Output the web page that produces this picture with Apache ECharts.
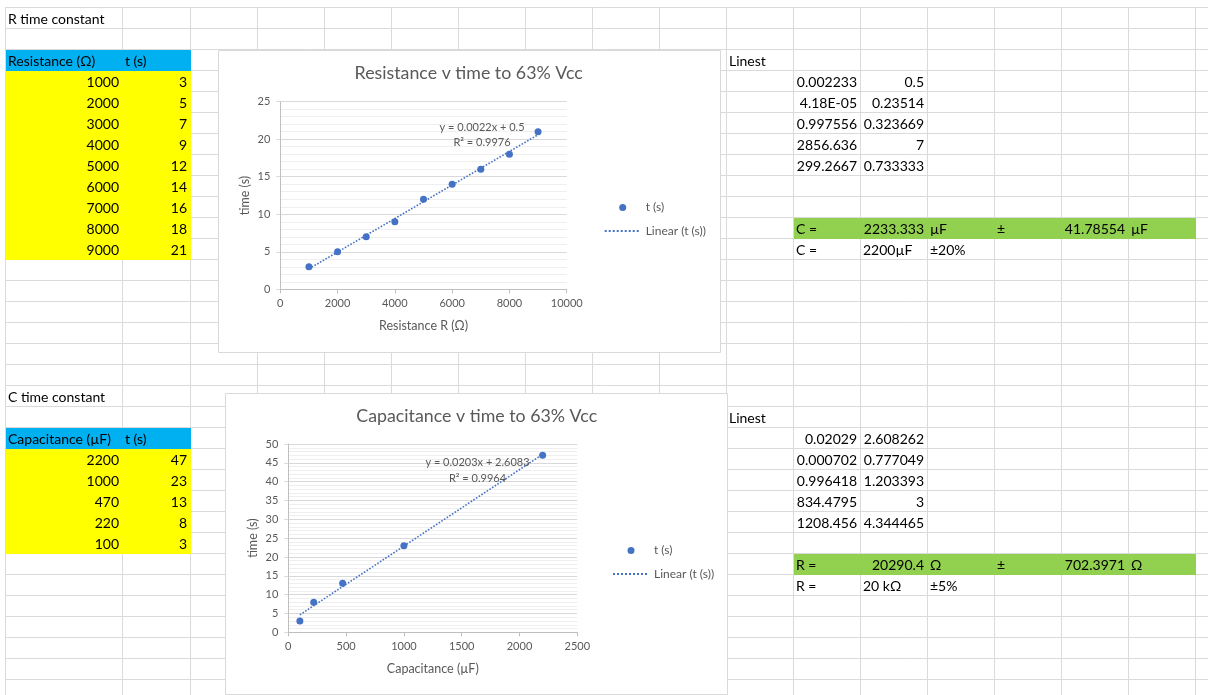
<!DOCTYPE html>
<html><head><meta charset="utf-8">
<script src="https://cdn.jsdelivr.net/npm/echarts@6/dist/echarts.min.js"></script>
<style>html,body{margin:0;padding:0;background:#fff;overflow:hidden}#c{width:1208px;height:695px}</style>
</head><body><div id="c"></div>
<script>
// ---------- data ----------
const resistance = [1000, 2000, 3000, 4000, 5000, 6000, 7000, 8000, 9000];
const timeR = [3, 5, 7, 9, 12, 14, 16, 18, 21];
const capacitance = [2200, 1000, 470, 220, 100];
const timeC = [47, 23, 13, 8, 3];
const trendR = [[1000, 2.733], [9000, 20.6]];
const trendC = [[100, 4.637], [2200, 47.246]];
const eqR = ['y = 0.0022x + 0.5', 'R² = 0.9976'];
const eqC = ['y = 0.0203x + 2.6083', 'R² = 0.9964'];
const titleR = 'Resistance v time to 63% Vcc';
const titleC = 'Capacitance v time to 63% Vcc';
const legendNames = ['t (s)', 'Linear (t (s))'];
const headersR = ['Resistance (Ω)', 't (s)'];
const headersC = ['Capacitance (µF)', 't (s)'];
const linestR = [['0.002233', '0.5'], ['4.18E-05', '0.23514'], ['0.997556', '0.323669'], ['2856.636', '7'], ['299.2667', '0.733333']];
const linestC = [['0.02029', '2.608262'], ['0.000702', '0.777049'], ['0.996418', '1.203393'], ['834.4795', '3'], ['1208.456', '4.344465']];
const resultR = ['C =', '2233.333', 'µF', '±', '41.78554', 'µF'];
const nominalR = ['C =', '2200µF', '±20%'];
const resultC = ['R =', '20290.4', 'Ω', '±', '702.3971', 'Ω'];
const nominalC = ['R =', '20 kΩ', '±5%'];

// ---------- sheet layout ----------
const FONT = 'Lato';
const COLS = [5, 122, 190, 257, 324, 391, 458, 525, 592, 659, 726, 793, 860, 927, 994, 1061, 1128, 1195, 1262];
const ROW0 = 7, ROWH = 21, NROWS = 34;
const rowY = r => ROW0 + ROWH * r;
const G = [];
// gridlines
COLS.forEach(x => G.push({type: 'line', silent: true, z: 0, shape: {x1: x + 0.5, y1: ROW0, x2: x + 0.5, y2: 695}, style: {stroke: '#dadada', lineWidth: 1}}));
for (let r = 0; r < NROWS; r++) G.push({type: 'line', silent: true, z: 0, shape: {x1: COLS[0], y1: rowY(r) + 0.5, x2: 1208, y2: rowY(r) + 0.5}, style: {stroke: '#dadada', lineWidth: 1}});
function fill(c0, c1, r0, r1, color) {
  G.push({type: 'rect', silent: true, z: 1, shape: {x: COLS[c0] + 1, y: rowY(r0) + 1, width: COLS[c1 + 1] - COLS[c0], height: rowY(r1 + 1) - rowY(r0)}, style: {fill: color}});
}
fill(0, 1, 2, 2, '#00B0F0'); fill(0, 1, 3, 11, '#FFFF00');
fill(0, 1, 20, 20, '#00B0F0'); fill(0, 1, 21, 25, '#FFFF00');
fill(11, 16, 10, 10, '#92D050'); fill(11, 16, 26, 26, '#92D050');
// chart boxes
G.push({type: 'rect', silent: true, z: 2, shape: {x: 218.5, y: 50.5, width: 502, height: 302}, style: {fill: '#fff', stroke: '#d9d9d9', lineWidth: 1}});
G.push({type: 'rect', silent: true, z: 2, shape: {x: 225.5, y: 393.5, width: 502, height: 301}, style: {fill: '#fff', stroke: '#d9d9d9', lineWidth: 1}});
function cell(c, r, text, align) {
  const x = align === 'right' ? COLS[c + 1] - 3 : COLS[c] + 3;
  G.push({type: 'text', silent: true, z: 3, x: x, y: rowY(r) + 12, style: {text: text, fontFamily: FONT, fontSize: 14, fill: '#000', align: align, verticalAlign: 'middle'}});
}
cell(0, 0, 'R time constant', 'left');
cell(0, 2, headersR[0], 'left'); cell(1, 2, headersR[1], 'left');
resistance.forEach((v, i) => { cell(0, 3 + i, String(v), 'right'); cell(1, 3 + i, String(timeR[i]), 'right'); });
cell(10, 2, 'Linest', 'left');
linestR.forEach((p, i) => { cell(11, 3 + i, p[0], 'right'); cell(12, 3 + i, p[1], 'right'); });
[['left', 11], ['right', 12], ['left', 13], ['left', 14], ['right', 15], ['left', 16]].forEach((a, i) => cell(a[1], 10, resultR[i], a[0]));
nominalR.forEach((t, i) => cell(11 + i, 11, t, 'left'));
cell(0, 18, 'C time constant', 'left');
cell(0, 20, headersC[0], 'left'); cell(1, 20, headersC[1], 'left');
capacitance.forEach((v, i) => { cell(0, 21 + i, String(v), 'right'); cell(1, 21 + i, String(timeC[i]), 'right'); });
cell(10, 19, 'Linest', 'left');
linestC.forEach((p, i) => { cell(11, 20 + i, p[0], 'right'); cell(12, 20 + i, p[1], 'right'); });
[['left', 11], ['right', 12], ['left', 13], ['left', 14], ['right', 15], ['left', 16]].forEach((a, i) => cell(a[1], 26, resultC[i], a[0]));
nominalC.forEach((t, i) => cell(11 + i, 27, t, 'left'));
// trendline equations
function eq(lines, cx, y0, y1) {
  [y0, y1].forEach((y, i) => G.push({type: 'text', silent: true, z: 20, x: cx, y: y, style: {text: lines[i], fontFamily: FONT, fontSize: 11, fill: '#595959', align: 'center', verticalAlign: 'middle'}}));
}
eq(eqR, 482, 127, 142.5);
eq(eqC, 477.5, 462, 478);

// ---------- charts ----------
const GREY = '#595959', BLUE = '#4472C4';
function xAx(gi, max, interval, name) {
  return {gridIndex: gi, type: 'value', min: 0, max: max, interval: interval, z: 5,
    axisLine: {show: true, onZero: false, lineStyle: {color: '#bfbfbf'}},
    axisTick: {show: true, length: 4, lineStyle: {color: '#bfbfbf'}},
    axisLabel: {color: GREY, fontFamily: FONT, fontSize: 11, margin: 9, formatter: v => String(v)},
    splitLine: {show: false},
    name: name, nameLocation: 'middle', nameGap: 30, nameTextStyle: {color: GREY, fontFamily: FONT, fontSize: 12.5}};
}
function yAx(gi, max) {
  return {gridIndex: gi, type: 'value', min: 0, max: max, interval: 5, z: 5,
    axisLine: {show: true, lineStyle: {color: '#bfbfbf'}},
    axisTick: {show: true, length: 4, lineStyle: {color: '#d9d9d9'}},
    minorTick: {show: false, splitNumber: 5},
    axisLabel: {color: GREY, fontFamily: FONT, fontSize: 11, margin: 10, formatter: v => String(v)},
    splitLine: {show: true, lineStyle: {color: '#d9d9d9'}},
    minorSplitLine: {show: true, lineStyle: {color: '#efefef'}},
    name: 'time (s)', nameLocation: 'middle', nameGap: 29, nameRotate: 90, nameTextStyle: {color: GREY, fontFamily: FONT, fontSize: 12.5}};
}
function legend(left, top) {
  return {orient: 'vertical', left: left, top: top, padding: 0, itemWidth: 36, itemHeight: 7, itemGap: 11.5, z: 10,
    data: [{name: legendNames[0]}, {name: legendNames[1], itemStyle: {opacity: 0}}],
    textStyle: {color: GREY, fontFamily: FONT, fontSize: 12}, selectedMode: false};
}
const scatterStyle = {symbol: 'circle', symbolSize: 7, itemStyle: {color: BLUE, opacity: 1}, z: 10};
const trendStyle = {symbol: 'none', showSymbol: false, lineStyle: {color: BLUE, width: 1.6, type: 'dotted'}, itemStyle: {color: BLUE}, z: 9};

const option = {
  animation: false,
  textStyle: {fontFamily: FONT},
  graphic: {elements: G},
  title: [
    {text: titleR, left: 468.7, top: 73.5, padding: 0, textAlign: 'center', textVerticalAlign: 'middle', z: 10, textStyle: {color: GREY, fontFamily: FONT, fontSize: 17.8, fontWeight: 'normal'}},
    {text: titleC, left: 476.7, top: 416.5, padding: 0, textAlign: 'center', textVerticalAlign: 'middle', z: 10, textStyle: {color: GREY, fontFamily: FONT, fontSize: 17.8, fontWeight: 'normal'}}
  ],
  legend: [legend(603.7, 201.5), legend(612, 544.5)],
  grid: [
    {left: 280.3, top: 101.7, width: 286.4, height: 187.6, containLabel: false},
    {left: 288.3, top: 444, width: 289, height: 188.3, containLabel: false}
  ],
  xAxis: [xAx(0, 10000, 2000, 'Resistance R (Ω)'), xAx(1, 2500, 500, 'Capacitance (µF)')],
  yAxis: [yAx(0, 25), yAx(1, 50)],
  series: [
    Object.assign({type: 'line', name: legendNames[1], xAxisIndex: 0, yAxisIndex: 0, data: trendR}, trendStyle),
    Object.assign({type: 'scatter', name: legendNames[0], xAxisIndex: 0, yAxisIndex: 0, data: resistance.map((x, i) => [x, timeR[i]])}, scatterStyle),
    Object.assign({type: 'line', name: legendNames[1], xAxisIndex: 1, yAxisIndex: 1, data: trendC}, trendStyle),
    Object.assign({type: 'scatter', name: legendNames[0], xAxisIndex: 1, yAxisIndex: 1, data: capacitance.map((x, i) => [x, timeC[i]])}, scatterStyle)
  ]
};
const chart = echarts.init(document.getElementById('c'), null, {renderer: 'canvas'});
chart.setOption(option);
</script>
</body></html>
